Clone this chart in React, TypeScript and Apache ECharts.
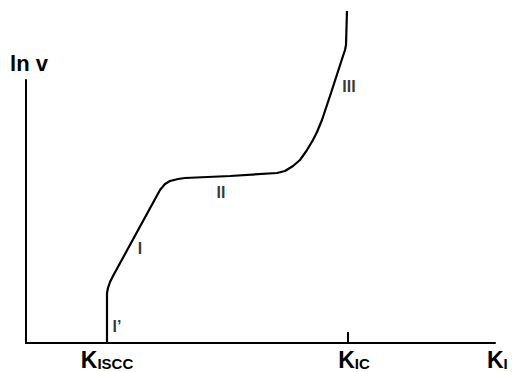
import React, { useEffect, useRef } from "react";
import * as echarts from "echarts";

// Crack growth rate curve: ln v vs K_I (arbitrary units, x 0..100, y 0..100 at axis top)
const curveK = [17.27, 17.27, 17.27, 17.48, 17.91, 18.55, 28.57, 29.64, 30.7, 32.41, 33.9, 43.5, 53.52, 55.22, 56.93, 58.42, 59.91, 61.19, 62.05, 63.11, 65.03, 67.59, 68.02, 68.23, 68.44];
const curveLnV = [0, 16.35, 19.01, 20.91, 23.19, 25.48, 58.17, 60.46, 61.6, 62.36, 62.74, 63.5, 64.64, 65.4, 67.3, 69.58, 73.38, 77.19, 80.23, 84.79, 95.06, 109.13, 111.41, 113.31, 126.24];

const kIscc = 17.27;
const kIc = 68.66;
const tickLabelValues = [kIscc, kIc];
const tickMarkValues = [kIc];

const regionNames = ["I\u2019", "I", "II", "III"];
const regionK = [19.4, 24.31, 41.58, 68.87];
const regionLnV = [6.46, 36.12, 57.41, 97.34];

const FONT = "'Liberation Sans', Arial, Helvetica, sans-serif";

export default function App() {
  const ref = useRef<HTMLDivElement>(null);
  useEffect(() => {
    if (!ref.current) return;
    const chart = echarts.init(ref.current, null, { renderer: "svg" });
    const curve = curveK.map((k, i) => [k, curveLnV[i]]);
    const regions = regionNames.map((n, i) => ({ name: n, value: [regionK[i], regionLnV[i]] }));
    chart.setOption({
      animation: false,
      backgroundColor: "#ffffff",
      textStyle: { fontFamily: FONT },
      grid: { left: 26, right: 17, top: 80, bottom: 29, containLabel: false },
      xAxis: {
        type: "value",
        min: 0,
        max: 100,
        splitLine: { show: false },
        axisLine: { show: true, lineStyle: { color: "#000", width: 2 } },
        axisTick: {
          show: true,
          inside: true,
          length: 11,
          customValues: tickMarkValues,
          lineStyle: { color: "#000", width: 2 },
        },
        axisLabel: {
          show: true,
          margin: 5,
          customValues: tickLabelValues,
          formatter: (v: number) =>
            Math.abs(v - kIscc) < 0.01 ? "{k|K}{s|ISCC}" : "{k2|K}{s|IC}",
          rich: {
            k: { fontSize: 23, fontWeight: "bold", color: "#000", fontFamily: FONT },
            k2: { fontSize: 23, fontWeight: "bold", color: "#000", fontFamily: FONT, padding: [0, 0, 0, 12] },
            s: { fontSize: 15, fontWeight: "bold", color: "#000", fontFamily: FONT, verticalAlign: "bottom" },
          },
        },
        name: "{k|K}{s|I}",
        nameLocation: "end",
        nameGap: -8,
        nameTextStyle: {
          align: "left",
          verticalAlign: "top",
          padding: [5, 0, 0, 0],
          rich: {
            k: { fontSize: 23, fontWeight: "bold", color: "#000", fontFamily: FONT },
            s: { fontSize: 15, fontWeight: "bold", color: "#000", fontFamily: FONT, verticalAlign: "bottom" },
          },
        },
      },
      yAxis: {
        type: "value",
        min: 0,
        max: 100,
        splitLine: { show: false },
        axisLine: { show: true, lineStyle: { color: "#000", width: 2 } },
        axisTick: { show: false },
        axisLabel: { show: false },
        name: "ln v",
        nameLocation: "end",
        nameGap: 6,
        nameTextStyle: { fontSize: 22, fontWeight: "bold", color: "#000", fontFamily: FONT, padding: [0, 0, 0, 6] },
      },
      series: [
        {
          type: "line",
          data: curve,
          clip: false,
          showSymbol: false,
          symbol: "none",
          smooth: false,
          lineStyle: { color: "#000", width: 2.2 },
          silent: true,
        },
        {
          type: "scatter",
          data: regions,
          clip: false,
          symbolSize: 0,
          silent: true,
          label: {
            show: true,
            position: "inside",
            formatter: (p: any) => p.name,
            fontSize: 16,
            fontWeight: "bold",
            color: "#000",
            fontFamily: FONT,
          },
        },
      ],
    });
    return () => chart.dispose();
  }, []);
  return <div ref={ref} style={{ width: 512, height: 372, position: "absolute", left: 0, top: 0 }} />;
}
